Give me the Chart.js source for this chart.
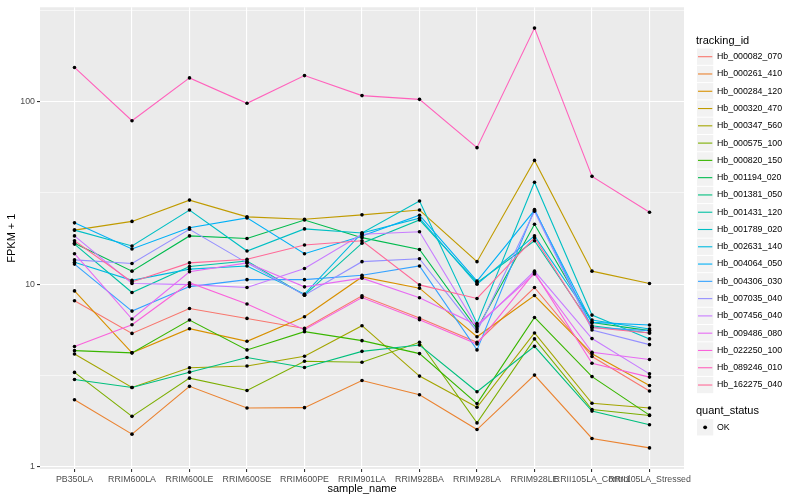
<!DOCTYPE html>
<html>
<head>
<meta charset="utf-8">
<title>FPKM by sample</title>
<script src="https://cdn.jsdelivr.net/npm/chart.js@4/dist/chart.umd.min.js"></script>
<style>
  html, body { margin: 0; padding: 0; background: #ffffff; }
  #wrap { width: 800px; height: 500px; }
</style>
</head>
<body>
<div id="wrap"><canvas id="fpkmChart" width="800" height="500"></canvas></div>
<script>
// Samples on the x axis
const sampleNames = ['PB350LA', 'RRIM600LA', 'RRIM600LE', 'RRIM600SE', 'RRIM600PE', 'RRIM901LA',
  'RRIM928BA', 'RRIM928LA', 'RRIM928LE', 'RRII105LA_Control', 'RRII105LA_Stressed'];

// FPKM + 1 per gene, one value per sample
const hb_000082_070 = [8.12, 5.38, 7.37, 6.50, 5.73, 8.64, 6.53, 4.81, 9.60, 4.02, 2.60];
const hb_000261_410 = [2.33, 1.51, 2.76, 2.10, 2.11, 2.97, 2.48, 1.60, 3.18, 1.43, 1.27];
const hb_000284_120 = [9.20, 4.21, 5.71, 4.87, 6.64, 10.97, 9.52, 5.16, 8.68, 4.16, 2.79];
const hb_000320_470 = [19.8, 22.1, 28.9, 23.4, 22.7, 24.0, 25.5, 13.3, 47.7, 11.8, 10.1];
const hb_000347_560 = [4.15, 2.72, 3.49, 3.57, 4.03, 5.93, 3.14, 2.12, 5.41, 2.23, 2.10];
const hb_000575_100 = [3.29, 1.89, 3.06, 2.62, 3.79, 3.74, 4.81, 1.74, 5.02, 2.06, 1.91];
const hb_000820_150 = [4.33, 4.21, 6.37, 4.37, 5.50, 4.91, 4.17, 2.22, 6.58, 3.12, 1.92];
const hb_001194_020 = [16.8, 11.8, 18.4, 17.8, 22.5, 18.0, 15.5, 5.69, 21.3, 6.18, 5.57];
const hb_001381_050 = [3.01, 2.72, 3.30, 3.97, 3.50, 4.29, 4.65, 2.58, 4.57, 2.02, 1.70];
const hb_001431_120 = [16.6, 9.01, 12.5, 13.4, 8.72, 16.8, 22.5, 10.2, 17.3, 5.93, 5.41];
const hb_001789_020 = [19.8, 16.2, 25.5, 15.2, 20.1, 19.1, 28.6, 6.10, 36.2, 6.78, 5.02];
const hb_002631_140 = [13.2, 10.5, 12.1, 12.6, 8.83, 19.1, 23.0, 10.0, 18.4, 6.37, 5.69];
const hb_004064_050 = [21.7, 15.6, 20.4, 23.1, 14.7, 18.4, 23.9, 10.4, 25.4, 6.18, 5.98];
const hb_004306_030 = [12.9, 7.13, 9.71, 10.6, 10.6, 11.2, 12.6, 4.37, 25.7, 5.80, 5.57];
const hb_007035_040 = [13.6, 13.0, 20.0, 13.1, 8.72, 13.3, 13.8, 5.52, 25.1, 5.62, 4.67];
const hb_007456_040 = [18.4, 10.1, 9.96, 9.60, 12.2, 18.8, 19.4, 5.86, 11.8, 5.04, 3.23];
const hb_009486_080 = [14.7, 6.45, 11.7, 13.1, 9.68, 10.8, 8.43, 5.98, 11.4, 4.24, 3.87];
const hb_022250_100 = [4.56, 6.00, 10.2, 7.79, 5.64, 8.46, 6.39, 4.71, 11.6, 3.69, 3.10];
const hb_089246_010 = [154, 78.7, 135, 98, 139, 108, 103, 56, 253, 39, 24.8];
const hb_162275_040 = [17.3, 10.3, 13.1, 13.7, 16.4, 17.3, 9.92, 8.36, 18.0, 5.80, 5.41];

const trackingIds = ['Hb_000082_070', 'Hb_000261_410', 'Hb_000284_120', 'Hb_000320_470', 'Hb_000347_560',
  'Hb_000575_100', 'Hb_000820_150', 'Hb_001194_020', 'Hb_001381_050', 'Hb_001431_120', 'Hb_001789_020',
  'Hb_002631_140', 'Hb_004064_050', 'Hb_004306_030', 'Hb_007035_040', 'Hb_007456_040', 'Hb_009486_080',
  'Hb_022250_100', 'Hb_089246_010', 'Hb_162275_040'];
const seriesValues = [hb_000082_070, hb_000261_410, hb_000284_120, hb_000320_470, hb_000347_560,
  hb_000575_100, hb_000820_150, hb_001194_020, hb_001381_050, hb_001431_120, hb_001789_020,
  hb_002631_140, hb_004064_050, hb_004306_030, hb_007035_040, hb_007456_040, hb_009486_080,
  hb_022250_100, hb_089246_010, hb_162275_040];
const seriesColors = ['#F8766D', '#EA8331', '#D89000', '#C09B00', '#A3A500', '#7CAE00', '#39B600',
  '#00BB4E', '#00BF7D', '#00C1A3', '#00BFC4', '#00BAE0', '#00B0F6', '#35A2FF', '#9590FF', '#C77CFF',
  '#E76BF3', '#FA62DB', '#FF62BC', '#FF6A98'];

// Log axis breaks
const yMajorBreaks = [1, 10, 100];
const yMinorBreaks = [3.1623, 31.623, 316.23];
const yLimits = [0.973, 329];

const FONT = '"Liberation Sans", Arial, Helvetica, sans-serif';
Chart.defaults.font.family = FONT;

// Grey ggplot panel behind the grid
const panelBackground = {
  id: 'panelBackground',
  beforeDraw(chart) {
    const { ctx, chartArea: { left, top, width, height } } = chart;
    ctx.save();
    ctx.fillStyle = '#EBEBEB';
    ctx.fillRect(left, top, width, height);
    ctx.restore();
  }
};

// Legend drawn ggplot style: grey key boxes with a line, then the status key
const ggLegend = {
  id: 'ggLegend',
  afterDraw(chart) {
    const ctx = chart.ctx;
    const keyX = 696.5, keySize = 17.28, textX = 717;
    ctx.save();
    ctx.textAlign = 'left';
    ctx.textBaseline = 'middle';

    ctx.fillStyle = '#000000';
    ctx.font = '11px ' + FONT;
    ctx.fillText('tracking_id', 696, 40.5);

    trackingIds.forEach((id, i) => {
      const cy = 56.7 + i * keySize;
      ctx.fillStyle = '#F2F2F2';
      ctx.fillRect(keyX + 0.5, cy - keySize / 2 + 0.5, keySize - 1, keySize - 1);
      ctx.strokeStyle = seriesColors[i];
      ctx.lineWidth = 1.1;
      ctx.beginPath();
      ctx.moveTo(keyX + 1.5, cy);
      ctx.lineTo(keyX + keySize - 1.5, cy);
      ctx.stroke();
      ctx.fillStyle = '#000000';
      ctx.font = '8.8px ' + FONT;
      ctx.fillText(id, textX, cy);
    });

    ctx.font = '11px ' + FONT;
    ctx.fillText('quant_status', 696, 411);
    const okY = 427.3;
    ctx.fillStyle = '#F2F2F2';
    ctx.fillRect(keyX + 0.5, okY - keySize / 2 + 0.5, keySize - 1, keySize - 1);
    ctx.fillStyle = '#000000';
    ctx.beginPath();
    ctx.arc(keyX + keySize / 2, okY, 1.9, 0, Math.PI * 2);
    ctx.fill();
    ctx.font = '8.8px ' + FONT;
    ctx.fillText('OK', textX, okY);
    ctx.restore();
  }
};

// One line per gene, drawn in legend order so the last gene sits on top
const lineDatasets = seriesValues.map((values, i) => ({
  label: trackingIds[i],
  data: values.map((v, j) => ({ x: j, y: v })),
  borderColor: seriesColors[i],
  backgroundColor: seriesColors[i],
  borderWidth: 1.1,
  pointRadius: 0,
  tension: 0,
  order: 100 - i
}));

// All points in black above every line (quant_status = OK)
const pointDataset = {
  label: 'OK',
  data: seriesValues.flatMap(values => values.map((v, j) => ({ x: j, y: v }))),
  showLine: false,
  pointRadius: 1.8,
  pointBackgroundColor: '#000000',
  pointBorderWidth: 0,
  order: 0
};

new Chart(document.getElementById('fpkmChart'), {
  type: 'line',
  data: { datasets: [...lineDatasets, pointDataset] },
  options: {
    responsive: false,
    animation: false,
    events: [],
    layout: { padding: { left: 0, right: 116, top: 5.5, bottom: 0 } },
    plugins: {
      legend: { display: false },
      tooltip: { enabled: false }
    },
    scales: {
      x: {
        type: 'linear',
        min: -0.6,
        max: sampleNames.length - 1 + 0.6,
        afterBuildTicks: scale => { scale.ticks = sampleNames.map((_, i) => ({ value: i })); },
        afterFit: scale => { scale.height = 31; },
        ticks: {
          autoSkip: false,
          maxRotation: 0,
          minRotation: 0,
          padding: 2,
          color: '#4D4D4D',
          font: { size: 8.8 },
          callback: value => sampleNames[value]
        },
        grid: { color: '#FFFFFF', lineWidth: 1.1, tickLength: 3, tickColor: '#333333', tickWidth: 1.1 },
        border: { display: false },
        title: {
          display: true,
          text: 'sample_name',
          color: '#000000',
          font: { size: 11 },
          padding: { top: 0, bottom: 4.4 }
        }
      },
      y: {
        type: 'logarithmic',
        min: yLimits[0],
        max: yLimits[1],
        afterBuildTicks: scale => {
          scale.ticks = [...yMajorBreaks, ...yMinorBreaks].sort((a, b) => a - b).map(v => ({ value: v }));
        },
        afterFit: scale => { scale.width = 40; },
        ticks: {
          padding: 2,
          color: '#4D4D4D',
          font: { size: 8.8 },
          callback: value => (yMajorBreaks.includes(value) ? String(value) : '')
        },
        grid: {
          color: '#FFFFFF',
          lineWidth: ctx => (ctx.tick && yMajorBreaks.includes(ctx.tick.value) ? 1.1 : 0.55),
          tickLength: 3,
          tickColor: ctx => (ctx.tick && yMajorBreaks.includes(ctx.tick.value) ? '#333333' : 'rgba(0,0,0,0)'),
          tickWidth: 1.1
        },
        border: { display: false },
        title: {
          display: true,
          text: 'FPKM + 1',
          color: '#000000',
          font: { size: 11 },
          padding: { top: 5, bottom: 0 }
        }
      }
    }
  },
  plugins: [panelBackground, ggLegend]
});
</script>
</body>
</html>
